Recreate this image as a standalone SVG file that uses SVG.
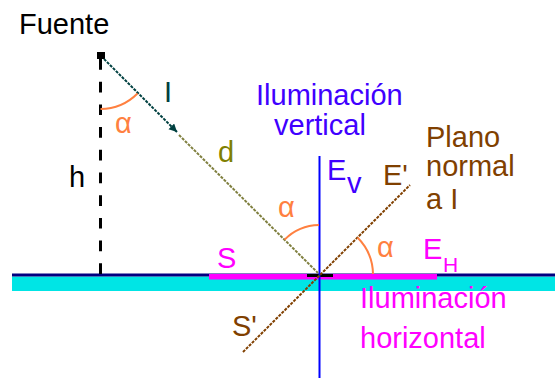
<svg xmlns="http://www.w3.org/2000/svg" width="555" height="378" viewBox="0 0 555 378">
<style>
text{font-family:"Liberation Sans",Arial,sans-serif;font-size:29px}
.dot{fill:none;stroke-width:2;stroke-dasharray:3 1.2}
.arc{fill:none;stroke:#ff8040;stroke-width:2}
.teal{fill:#004040}.olive{fill:#808000}.brown{fill:#804000}.blue{fill:#4000ff}.mag{fill:#ff00ff}.org{fill:#ff8040}
</style>
<defs>
<marker id="arr" markerWidth="10" markerHeight="10" refX="8" refY="4" orient="auto" markerUnits="userSpaceOnUse">
<path d="M0,0 L8,4 L0,8 Z" fill="#004040"/>
</marker>
</defs>
<rect width="555" height="378" fill="#ffffff"/>
<g id="ground">
<rect x="12" y="276.5" width="543" height="14.5" fill="#00e5e5"/>
<rect x="12" y="273.5" width="543" height="3" fill="#000080"/>
<rect x="209" y="274" width="228" height="5.5" fill="#ff00ff"/>
<rect x="307" y="274" width="26" height="3" fill="#000000"/>
</g>
<g id="source">
<rect x="97" y="52" width="8" height="7" fill="#000000"/>
</g>
<g id="connectors">
<line x1="100.5" y1="59" x2="100.5" y2="274" stroke="#000000" stroke-width="3" stroke-dasharray="10.7 12"/>
<line x1="319.5" y1="156" x2="319.5" y2="378" stroke="#0000ff" stroke-width="2"/>
<line class="dot" x1="104" y1="59" x2="177" y2="132" stroke="#004040" marker-end="url(#arr)"/>
<line class="dot" x1="179" y1="135" x2="318" y2="273" stroke="#808040"/>
<line class="dot" x1="243" y1="352" x2="410" y2="185" stroke="#804000"/>
<path class="arc" d="M100.5,109 A53,53 0 0 0 137.5,93.5"/>
<path class="arc" d="M319,225 A50,50 0 0 0 284.6,239.6"/>
<path class="arc" d="M357.5,237.5 A53,53 0 0 1 373,274"/>
</g>
<g id="labels">
<text x="19" y="34" fill="#000000">Fuente</text>
<text x="164" y="102" class="teal">I</text>
<text x="69" y="187" fill="#000000">h</text>
<text x="218" y="162" class="olive">d</text>
<text x="115" y="133" class="org">α</text>
<text x="278" y="217" class="org">α</text>
<text x="377" y="257" class="org">α</text>
<text x="256" y="105" class="blue">Iluminación</text>
<text x="274" y="135" class="blue">vertical</text>
<text x="327" y="180" class="blue">E</text>
<text x="347" y="193" class="blue">v</text>
<text x="383" y="185" class="brown">E'</text>
<text x="426" y="147" class="brown">Plano</text>
<text x="426" y="176" class="brown">normal</text>
<text x="426" y="209" class="brown">a  I</text>
<text x="217" y="268" class="mag">S</text>
<text x="423" y="259" class="mag">E</text>
<text x="443" y="272" class="mag" style="font-size:21px">H</text>
<text x="232" y="336" class="brown">S'</text>
<text x="360" y="308" class="mag">Iluminación</text>
<text x="360" y="348" class="mag">horizontal</text>
</g>
</svg>
